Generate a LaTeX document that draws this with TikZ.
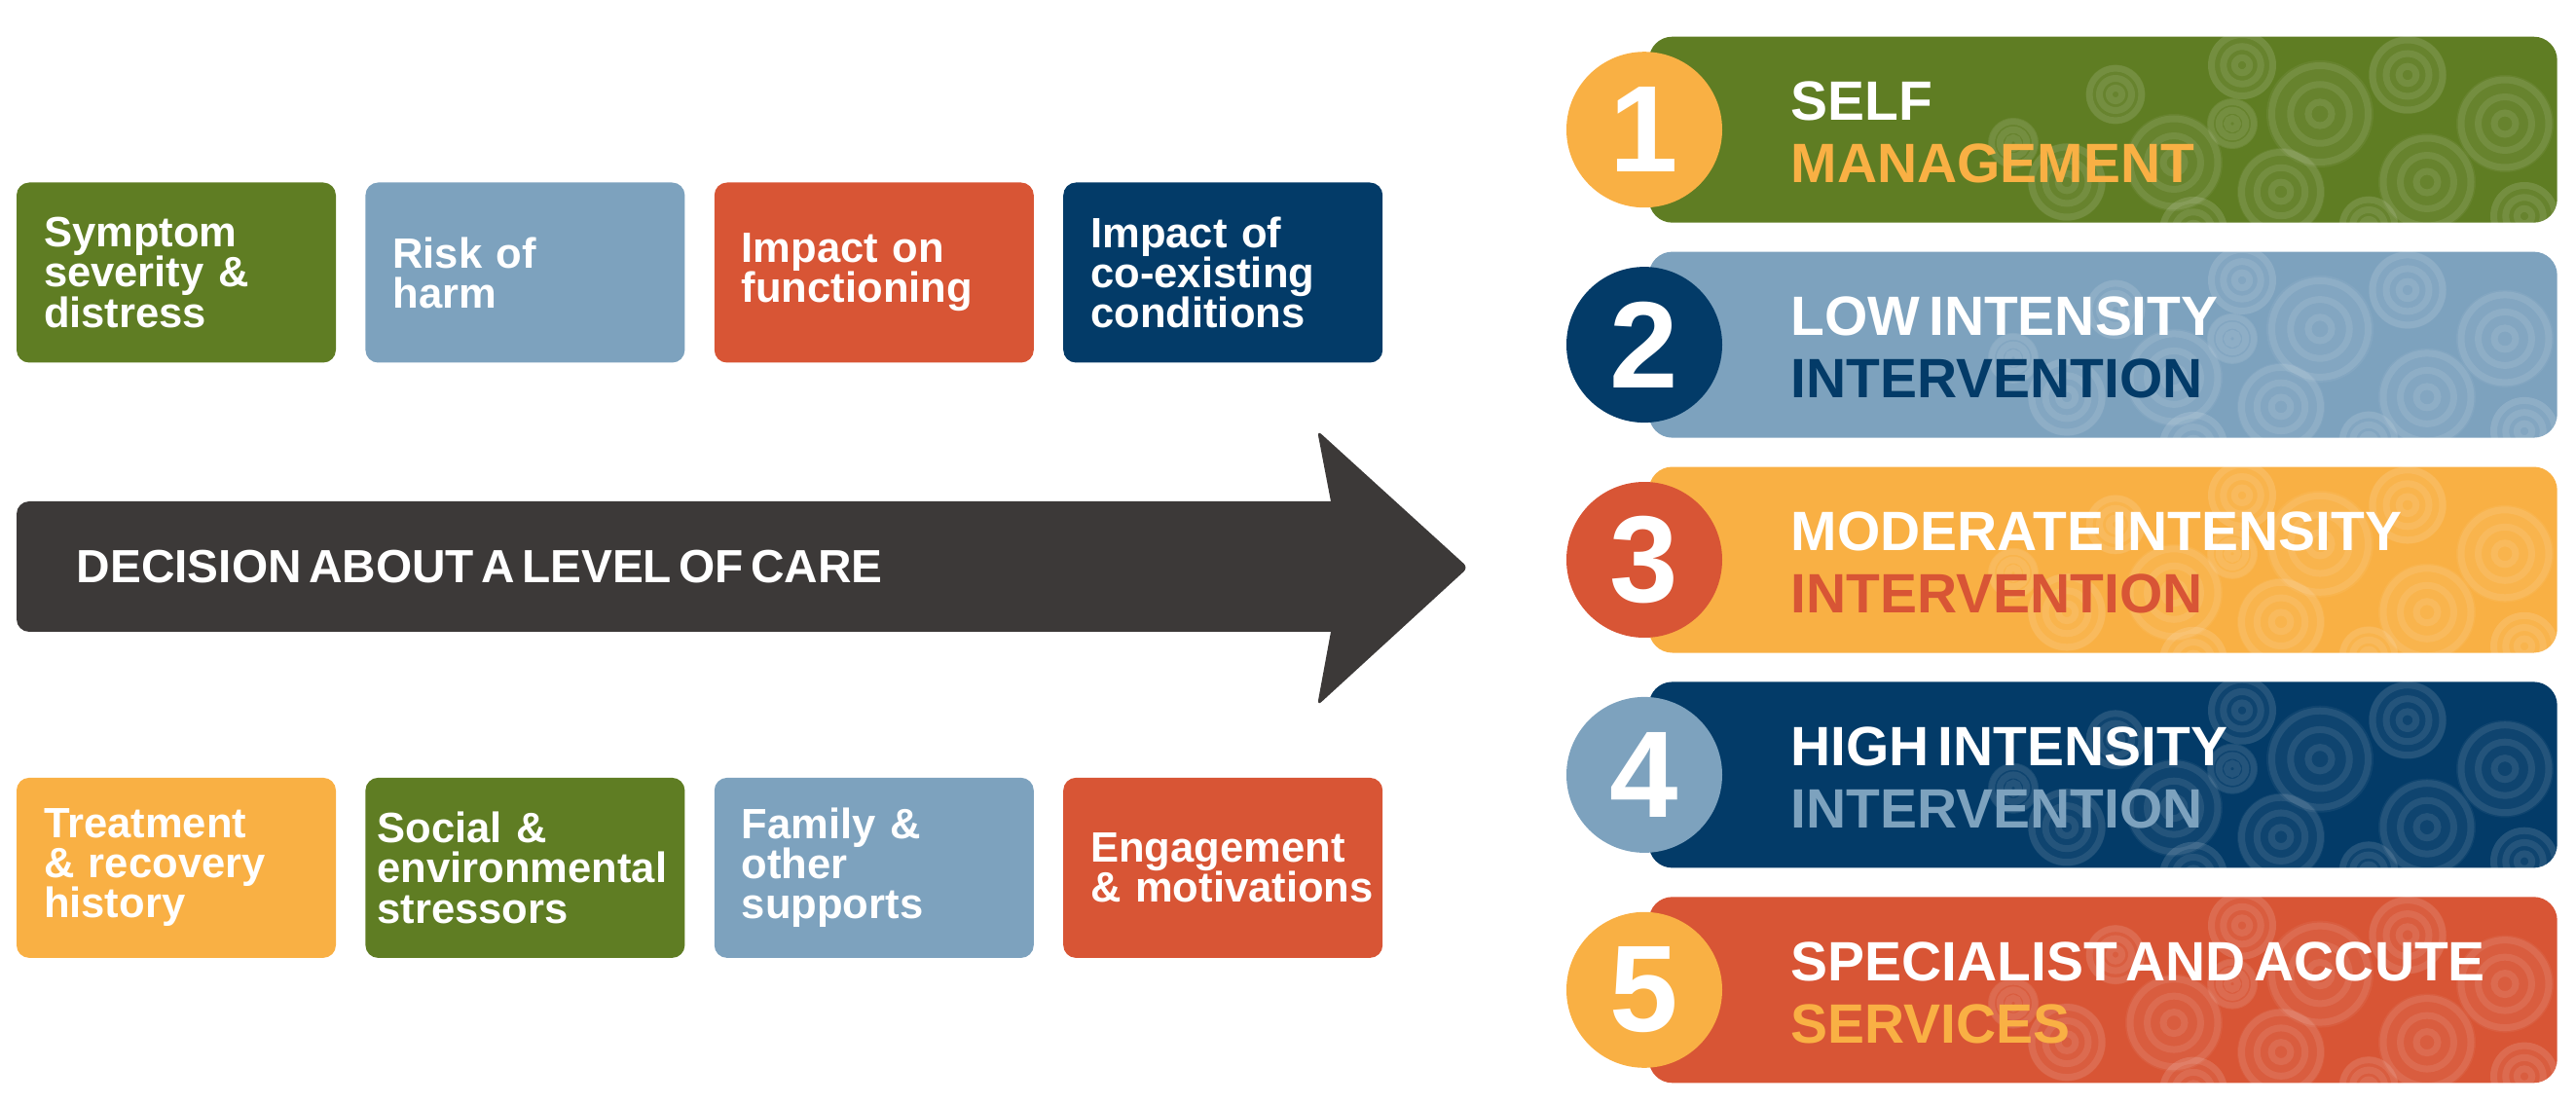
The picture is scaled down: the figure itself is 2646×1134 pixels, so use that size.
\documentclass[tikz,border=0pt]{standalone}
\usepackage{fontspec}
\setmainfont{Liberation Sans}
\newfontfamily\tightfont{Liberation Sans}[WordSpace=0.55]
\usepackage{xcolor}
\usepackage{tikz}
\usetikzlibrary{
  positioning,
  calc
}
\hyphenpenalty=10000
\exhyphenpenalty=10000
\definecolor{leafGreen}{HTML}{5F7D23}
\definecolor{skyBlue}{HTML}{7DA2BE}
\definecolor{brickRed}{HTML}{D85535}
\definecolor{deepNavy}{HTML}{033B68}
\definecolor{sunYellow}{HTML}{F9B044}
\definecolor{arrowGray}{HTML}{3C3938}
\tikzset{
  base/.style={
    rectangle, rounded corners=1.3mm, align=left,
    inner sep=0pt, text=white,
    font=\tightfont\bfseries\fontsize{12.4}{11.7}\selectfont
  },
  factor/.style={
    base, minimum width=32.8mm, minimum height=18.5mm, text width=27.2mm
  },
  green nd/.style={factor, fill=leafGreen},
  blue nd/.style={factor, fill=skyBlue},
  red nd/.style={factor, fill=brickRed},
  navy nd/.style={factor, fill=deepNavy},
  yell nd/.style={factor, fill=sunYellow},
  orn fill/.style={fill=white, fill opacity=0.05},
  orn line/.style={draw=white, draw opacity=0.09, line width=0.7mm}
}
% faint circle ornaments on the right part of a level bar
\newcommand{\barpattern}[1]{%
  \begin{scope}
    \clip[rounded corners=2.4mm] (#1.south west) rectangle (#1.north east);
    \foreach \dx/\dy/\r in {430/150/4.0, 480/60/3.0, 540/130/5.0, 610/30/3.5,
        650/160/4.5, 690/80/5.5, 780/40/4.0, 800/150/5.0, 880/90/5.0,
        560/200/3.5, 740/195/3.0, 900/185/3.5, 375/110/2.5, 600/90/2.5}{
      \fill[orn fill] ([shift={(\dx,\dy)}]#1.north west) circle[radius=\r mm];
      \draw[orn line] ([shift={(\dx,\dy)}]#1.north west) circle[radius=\r*0.9mm];
      \draw[orn line] ([shift={(\dx,\dy)}]#1.north west) circle[radius=\r*0.55mm];
      \draw[orn line] ([shift={(\dx,\dy)}]#1.north west) circle[radius=\r*0.22mm];
    }
  \end{scope}}

\begin{document}
\begin{tikzpicture}[
    x=0.1mm, y=-0.1mm,
    level/.style={
      rectangle, rounded corners=2.4mm, minimum width=93.3mm,
      minimum height=19.1mm, inner sep=0pt
    },
    numc/.style={
      circle, minimum size=16mm, inner sep=0pt, text=white,
      font=\bfseries\fontsize{36}{36}\selectfont
    },
    bartxt/.style={
      align=left, inner sep=0pt, text=white, anchor=west,
      font=\tightfont\bfseries\fontsize{16.2}{18.2}\selectfont
    },
    dectxt/.style={
      inner sep=0pt, text=white, anchor=west,
      font=\tightfont\bfseries\fontsize{13.6}{16}\selectfont
    },
    ]

    \useasboundingbox (0,0) rectangle (2646,1134);

    % factors above the arrow
    \node[green nd] (sympt) at (181,280)
      {Symptom\\severity~\&\\distress};
    \node[blue nd, right=2.9mm of sympt] (risk)
      {Risk of\\harm};
    \node[red nd, right=2.9mm of risk] (funct)
      {Impact on\\functioning};
    \node[navy nd, right=2.9mm of funct] (coexist)
      {Impact of\\co-existing\\conditions};

    % factors below the arrow
    \node[yell nd, below=42.5mm of sympt] (treat)
      {Treatment\\\&~recovery\\history};
    \node[green nd, right=2.9mm of treat, text width=30.4mm] (social)
      {Social~\&\\environmental\\stressors};
    \node[blue nd, right=2.9mm of social] (family)
      {Family~\&\\other\\supports};
    \node[red nd, right=2.9mm of family] (engage)
      {Engagement\\\&~motivations};

    % the big arrow
    \fill[arrowGray, rounded corners=1.3mm] (17,515) rectangle (1400,649);
    \fill[arrowGray, rounded corners=0.6mm]
      (1353,442) -- (1508,583) -- (1353,725) -- (1367,649)
      -- (1380,582) -- (1367,515) -- cycle;
    \node[dectxt] (decision) at (78,582) {DECISION ABOUT A LEVEL OF CARE};

    % levels of care
    \node[level, fill=leafGreen, anchor=north west] (lv1) at (1693,37) {};
    \node[level, fill=skyBlue, below=2.85mm of lv1] (lv2) {};
    \node[level, fill=sunYellow, below=2.85mm of lv2] (lv3) {};
    \node[level, fill=deepNavy, below=2.85mm of lv3] (lv4) {};
    \node[level, fill=brickRed, below=2.85mm of lv4] (lv5) {};

    \barpattern{lv1}
    \barpattern{lv2}
    \barpattern{lv3}
    \barpattern{lv4}
    \barpattern{lv5}

    \node[numc, fill=sunYellow] (n1) at ([xshift=-0.4mm]lv1.west) {1};
    \node[numc, fill=deepNavy] (n2) at ([xshift=-0.4mm]lv2.west) {2};
    \node[numc, fill=brickRed] (n3) at ([xshift=-0.4mm]lv3.west) {3};
    \node[numc, fill=skyBlue] (n4) at ([xshift=-0.4mm]lv4.west) {4};
    \node[numc, fill=sunYellow] (n5) at ([xshift=-0.4mm]lv5.west) {5};

    \node[bartxt] (t1) at ([xshift=14.6mm, yshift=-0.3mm]lv1.west)
      {SELF\\\textcolor{sunYellow}{MANAGEMENT}};
    \node[bartxt] (t2) at ([xshift=14.6mm, yshift=-0.3mm]lv2.west)
      {LOW INTENSITY\\\textcolor{deepNavy}{INTERVENTION}};
    \node[bartxt] (t3) at ([xshift=14.6mm, yshift=-0.3mm]lv3.west)
      {MODERATE INTENSITY\\\textcolor{brickRed}{INTERVENTION}};
    \node[bartxt] (t4) at ([xshift=14.6mm, yshift=-0.3mm]lv4.west)
      {HIGH INTENSITY\\\textcolor{skyBlue}{INTERVENTION}};
    \node[bartxt] (t5) at ([xshift=14.6mm, yshift=-0.3mm]lv5.west)
      {SPECIALIST AND ACCUTE\\\textcolor{sunYellow}{SERVICES}};

  \end{tikzpicture}
\end{document}
